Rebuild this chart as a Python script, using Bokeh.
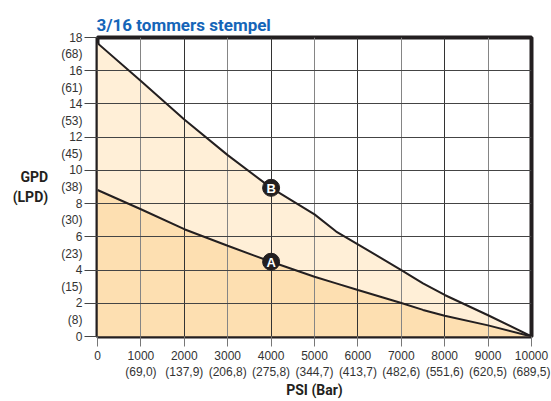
from bokeh.plotting import figure
from bokeh.models import ColumnDataSource, Range1d, FixedTicker, Grid
from bokeh.core.properties import value
from bokeh.embed import file_html
from bokeh.resources import INLINE

# ---- data ----
psi = [0, 1000, 2000, 3000, 4000, 5000, 5500, 6000, 7000, 7500, 8000, 9000, 10000]
gpd_b = [17.66, 15.38, 13.06, 10.92, 8.95, 7.35, 6.32, 5.55, 4.0, 3.2, 2.5, 1.28, 0]
gpd_a = [8.82, 7.66, 6.46, 5.46, 4.5, 3.6, 3.2, 2.8, 2.02, 1.6, 1.25, 0.67, 0]

marker_x = [4000, 4000]
marker_y = [4.5, 8.95]
marker_txt = ["A", "B"]

x_ticks = [0, 1000, 2000, 3000, 4000, 5000, 6000, 7000, 8000, 9000, 10000]
x_bar = ["", "(69,0)", "(137,9)", "(206,8)", "(275,8)", "(344,7)", "(413,7)",
         "(482,6)", "(551,6)", "(620,5)", "(689,5)"]
y_ticks = [0, 2, 4, 6, 8, 10, 12, 14, 16, 18]
y_lpd = ["", "(8)", "(15)", "(23)", "(30)", "(38)", "(45)", "(53)", "(61)", "(68)"]

title_text = "3/16 tommers stempel"
x_title = "PSI (Bar)"
y_title = "GPD\n(LPD)"

BOLDF = "Roboto"
SANS = "Liberation Sans"
INK = "#231f20"

p = figure(width=551, height=401, output_backend="svg", toolbar_location=None,
           x_range=Range1d(0, 10000), y_range=Range1d(0, 18),
           min_border_left=97, min_border_right=20, min_border_top=37,
           min_border_bottom=64)
p.background_fill_color = "white"
p.border_fill_color = "white"
p.outline_line_color = INK
p.outline_line_width = 4

p.title.text = title_text
p.title.align = "left"
p.title.text_font = BOLDF
p.title.text_font_style = "bold"
p.title.text_font_size = "17px"
p.title.text_color = "#1565b8"
p.title.standoff = 6
p.title.offset = -1

src = ColumnDataSource(dict(x=psi, a=gpd_a, b=gpd_b, zero=[0] * len(psi)))
r1 = p.varea(x="x", y1="zero", y2="a", source=src, fill_color="#fddfb1")
r2 = p.varea(x="x", y1="a", y2="b", source=src, fill_color="#ffefd7")
r1.level = "image"
r2.level = "image"

# grids
p.xgrid.visible = False
p.ygrid.visible = False
even_x = [t for t in x_ticks if (t // 1000) % 2 == 0]
odd_x = [t for t in x_ticks if (t // 1000) % 2 == 1]
g1 = Grid(dimension=0, ticker=FixedTicker(ticks=even_x), grid_line_color="#333333",
          grid_line_width=1)
g2 = Grid(dimension=0, ticker=FixedTicker(ticks=odd_x), grid_line_color="#858585",
          grid_line_width=1)
g3 = Grid(dimension=1, ticker=FixedTicker(ticks=y_ticks), grid_line_color="#444444",
          grid_line_width=1)
for g in (g1, g2, g3):
    p.add_layout(g)

p.line(x="x", y="b", source=src, line_color=INK, line_width=2)
p.line(x="x", y="a", source=src, line_color=INK, line_width=2)

msrc = ColumnDataSource(dict(x=marker_x, y=marker_y, t=marker_txt))
p.scatter(x="x", y="y", source=msrc, size=17, fill_color=INK, line_color=INK)
p.text(x="x", y="y", text="t", source=msrc, text_color="white",
       text_font=value(SANS), text_font_style="bold", text_font_size="13px",
       text_align="center", text_baseline="middle", y_offset=1)

# x axis
xa = p.xaxis[0]
xa.ticker = FixedTicker(ticks=x_ticks)
xa.major_label_overrides = {t: (f"{t}\n{b}" if b else f"{t}") for t, b in zip(x_ticks, x_bar)}
xa.major_tick_out = 10
xa.major_tick_in = 0
xa.major_tick_line_color = "#777777"
xa.minor_tick_line_color = None
xa.axis_line_color = None
xa.major_label_text_font = SANS
xa.major_label_text_font_size = "12px"
xa.major_label_text_color = "#333333"
xa.major_label_standoff = 2
xa.axis_label = x_title
xa.axis_label_text_font = BOLDF
xa.axis_label_text_font_style = "bold"
xa.axis_label_text_font_size = "14px"
xa.axis_label_text_color = INK
xa.axis_label_standoff = 0

# y axis: three-line labels keep the value on the tick, metric line below
ya = p.yaxis[0]
ya.ticker = FixedTicker(ticks=y_ticks)
ya.major_label_overrides = {t: ("\u00a0\n" + f"{t}\n{l}" if l else f"{t}")
                            for t, l in zip(y_ticks, y_lpd)}
ya.major_tick_out = 13
ya.major_tick_in = 0
ya.major_tick_line_color = "#444444"
ya.minor_tick_line_color = None
ya.axis_line_color = None
ya.major_label_text_font = SANS
ya.major_label_text_font_size = "12px"
ya.major_label_text_color = "#333333"
ya.major_label_standoff = 2
ya.axis_label = y_title
ya.axis_label_orientation = "horizontal"
ya.axis_label_text_font = BOLDF
ya.axis_label_text_font_style = "bold"
ya.axis_label_text_font_size = "14px"
ya.axis_label_text_color = INK
ya.axis_label_standoff = 10

open("out.html", "w").write(file_html(p, INLINE))
